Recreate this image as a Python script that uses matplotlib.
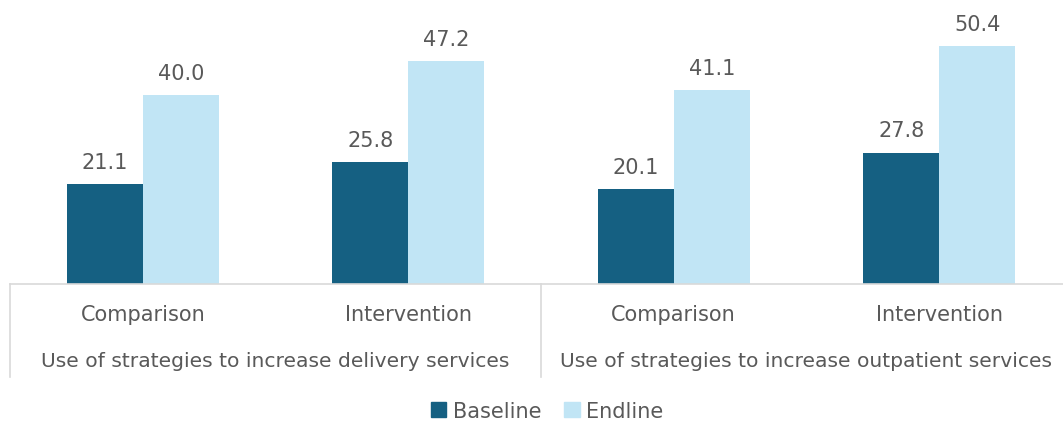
import matplotlib
matplotlib.use("Agg")
import matplotlib.pyplot as plt
import matplotlib.transforms as mtransforms
from matplotlib.lines import Line2D
from matplotlib.patches import Patch
import numpy as np

categories = ["Comparison", "Intervention", "Comparison", "Intervention"]
groups = ["Use of strategies to increase delivery services",
          "Use of strategies to increase outpatient services"]
baseline = [21.1, 25.8, 20.1, 27.8]
endline = [40.0, 47.2, 41.1, 50.4]
series_names = ["Baseline", "Endline"]
colors = ["#156082", "#C1E5F5"]
text_color = "#595959"

plt.rcParams['font.family'] = ['DejaVu Sans']

W, H = 1063, 427
fig = plt.figure(figsize=(W / 100, H / 100), dpi=100)
ax_left, ax_right, ax_bottom, ax_top = 10, 1072, 285, 2
ax = fig.add_axes([ax_left / W, (H - ax_bottom) / H, (ax_right - ax_left) / W, (ax_bottom - ax_top) / H])

x = np.arange(len(categories))
bw = 0.286
b1 = ax.bar(x - bw / 2, baseline, bw, color=colors[0])
b2 = ax.bar(x + bw / 2, endline, bw, color=colors[1])

for bars, vals in ((b1, baseline), (b2, endline)):
    for rect, v in zip(bars, vals):
        ax.annotate(f"{v:.1f}", (rect.get_x() + rect.get_width() / 2, v),
                    xytext=(0, 9), textcoords="offset points",
                    ha="center", va="bottom", fontsize=15, color=text_color)

ax.set_xlim(-0.5, len(categories) - 0.5)
ax.set_ylim(0, 60)
for s in ("top", "left", "right"):
    ax.spines[s].set_visible(False)
ax.spines["bottom"].set_color("#D9D9D9")
ax.spines["bottom"].set_linewidth(1.2)
ax.set_xticks([])
ax.set_yticks([])

trans = mtransforms.blended_transform_factory(ax.transData, fig.transFigure)
for xi, c in zip(x, categories):
    ax.text(xi, (H - 315) / H, c, transform=trans, ha="center", va="center",
            fontsize=15, color=text_color, clip_on=False)
for gi, g in enumerate(groups):
    ax.text(gi * 2 + 0.5, (H - 362) / H, g, transform=trans, ha="center", va="center",
            fontsize=14.6, color=text_color, clip_on=False)
for xs in (-0.5, 1.5, 3.5):
    ax.add_line(Line2D([xs, xs], [(H - 285) / H, (H - 378) / H], transform=trans,
                       color="#D9D9D9", lw=1.2, clip_on=False))

handles = [Patch(color=colors[0], label=series_names[0]),
           Patch(color=colors[1], label=series_names[1])]
fig.legend(handles=handles, loc="center", bbox_to_anchor=(547 / W, (H - 412) / H),
           ncol=2, frameon=False, fontsize=15, handlelength=0.75, handleheight=0.75,
           handletextpad=0.3, columnspacing=1.1, labelcolor=text_color)

fig.savefig("out.png", dpi=100)
